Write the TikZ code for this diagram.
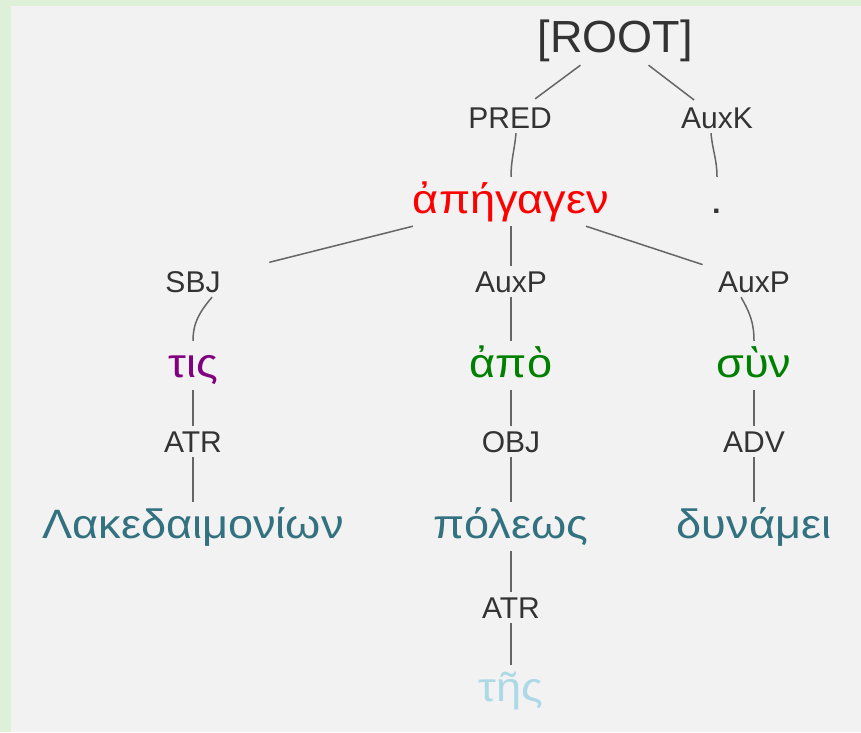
\documentclass[tikz,border=0pt]{standalone}
\usepackage{fontspec}
\usepackage{tikz}
\setmainfont{Liberation Sans}
\newfontfamily\greekwords[FakeStretch=1.1]{Liberation Sans}
\definecolor{framegreen}{HTML}{DFF0D8}
\definecolor{panelgray}{HTML}{F2F2F2}
\definecolor{relgray}{HTML}{333333}
\definecolor{linkgray}{HTML}{666666}
\definecolor{predred}{HTML}{FF0000}
\definecolor{sbjpurple}{HTML}{800080}
\definecolor{auxpgreen}{HTML}{008000}
\definecolor{nounteal}{HTML}{32717F}
\definecolor{artblue}{HTML}{ADD8E6}

\begin{document}
\begin{tikzpicture}[x=1pt, y=-1pt,
    rel/.style={anchor=base, inner sep=4pt, text=relgray,
      font=\fontsize{30}{30}\selectfont, text height=22pt, text depth=1pt},
    word/.style={anchor=base, inner sep=3pt,
      font=\greekwords\fontsize{41}{41}\selectfont, text height=33pt, text depth=10pt},
    link/.style={draw=linkgray, line width=1.5pt}]
      % Background panel
      \fill[framegreen] (0,0) rectangle (861,732);
      \fill[panelgray] (11,6) rectangle (861,732);

      % Root and first level
      \node[anchor=base, inner sep=4pt, text=relgray, font=\fontsize{45}{45}\selectfont,
        text height=34pt, text depth=9pt] (root) at (615,52) {[ROOT]};
      \node[rel] (pred) at (510,128) {PRED};
      \node[rel] (auxk) at (717,128) {AuxK};
      \node[word, text=predred] (verb) at (511,213) {ἀπήγαγεν};
      \node[word, text=relgray] (stop) at (717,213) {.};

      % Dependents of the verb
      \node[rel] (sbj) at (193,292) {SBJ};
      \node[rel] (auxpm) at (511,292) {AuxP};
      \node[rel] (auxpr) at (754,292) {AuxP};
      \node[word, text=sbjpurple] (tis) at (193,377) {τις};
      \node[word, text=auxpgreen] (apo) at (511,377) {ἀπὸ};
      \node[word, text=auxpgreen] (syn) at (754,377) {σὺν};

      % Lower levels
      \node[rel] (atrl) at (193,452) {ATR};
      \node[rel] (obj) at (511,452) {OBJ};
      \node[rel] (adv) at (754,452) {ADV};
      \node[word, text=nounteal] (lak) at (193,538) {Λακεδαιμονίων};
      \node[word, text=nounteal] (pol) at (511,538) {πόλεως};
      \node[word, text=nounteal] (dyn) at (754,538) {δυνάμει};
      \node[rel] (atrm) at (511,618) {ATR};
      \node[word, text=artblue] (tes) at (511,701) {τῆς};

      % Links
      \draw[link, shorten >=5pt] (root) -- (pred);
      \draw[link, shorten >=3pt] (root) -- (auxk);
      \draw[link] ([xshift=6pt]pred.south) to[out=-95, in=90] (verb.north);
      \draw[link] ([xshift=-6pt]auxk.south) to[out=-85, in=90] (stop.north);
      \draw[link, shorten >=46pt] (verb) -- (sbj);
      \draw[link] (verb) -- (auxpm);
      \draw[link, shorten >=12pt] (verb) -- (auxpr);
      \draw[link] ([xshift=19pt]sbj.south) to[out=-130, in=90] (tis.north);
      \draw[link] (auxpm) -- (apo);
      \draw[link] ([xshift=-13pt]auxpr.south) to[out=-60, in=90] (syn.north);
      \draw[link] (tis) -- (atrl);
      \draw[link] (atrl) -- (lak);
      \draw[link] (apo) -- (obj);
      \draw[link] (obj) -- (pol);
      \draw[link] (syn) -- (adv);
      \draw[link] (adv) -- (dyn);
      \draw[link] (pol) -- (atrm);
      \draw[link] (atrm) -- (tes);
    \end{tikzpicture}
\end{document}
